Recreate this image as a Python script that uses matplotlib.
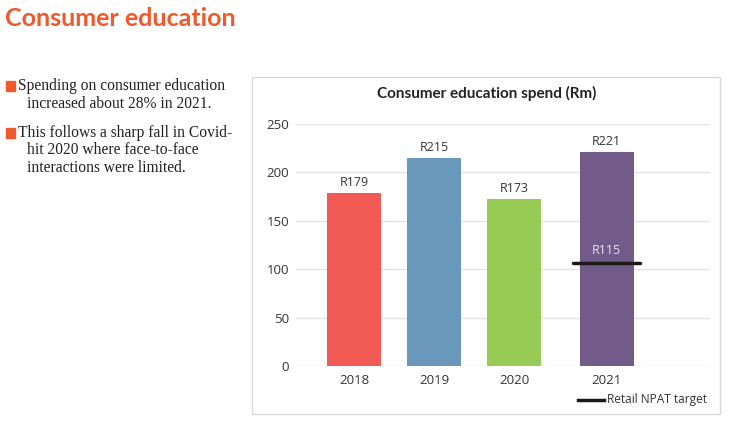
import matplotlib
matplotlib.use('Agg')
import numpy as np
from matplotlib import pyplot as plt
from matplotlib.patches import Rectangle

# data
years = ['2018', '2019', '2020', '2021']
spend = [179, 215, 173, 221]
spend_labels = ['R179', 'R215', 'R173', 'R221']
bar_colors = ['#F15A55', '#6A98BA', '#98CA56', '#725A89']
target_value = 106
target_label = 'R115'
yticks = [0, 50, 100, 150, 200, 250]

title = 'Consumer education'
bullets = [['Spending on consumer education', 'increased about 28% in 2021.'],
           ['This follows a sharp fall in Covid-', 'hit 2020 where face-to-face', 'interactions were limited.']]

W, H = 755, 428
fig = plt.figure(figsize=(W / 100, H / 100), dpi=100)

# page title
fig.text(5 / W, 1 - 19 / H, title, fontsize=18, fontweight='bold', color='#EE5A2B',
         family='Lato', va='center', ha='left')

# bullet text on the left
y = 86
for para in bullets:
    fig.patches.append(Rectangle((6 / W, 1 - (y + 5) / H), 9 / W, 10 / H,
                                 transform=fig.transFigure, color='#EE5A2B'))
    for i, line in enumerate(para):
        x = 18 if i == 0 else 27
        fig.text(x / W, 1 - y / H, line, fontsize=11.2, family='Liberation Serif',
                 color='#231F20', va='center', ha='left')
        y += 17.5
    y += 12

# chart frame
fig.patches.append(Rectangle((252 / W, 1 - 414 / H), (720 - 252) / W, (414 - 77) / H,
                             transform=fig.transFigure, fill=False, edgecolor='#D9D9D9', lw=1))
fig.text(487 / W, 1 - 93 / H, 'Consumer education spend (Rm)', fontsize=11, fontweight='bold',
         family='Lato', color='#222222', ha='center', va='center')

ax = fig.add_axes([296 / W, 1 - 366 / H, (710 - 296) / W, (366 - 124) / H])
x = np.array([0, 1, 2, 3.16])
ax.bar(x, spend, width=0.68, color=bar_colors, zorder=2)
for xi, v, lab in zip(x, spend, spend_labels):
    ax.text(xi, v + 4, lab, ha='center', va='bottom', fontsize=9, family='Open Sans', color='#333333')

# retail NPAT target marker on 2021
ax.plot([x[3] - 0.42, x[3] + 0.42], [target_value, target_value], color='#1a1a1a', lw=2.5,
        solid_capstyle='round', zorder=3)
ax.text(x[3], target_value + 7, target_label, ha='center', va='bottom', fontsize=9,
        family='Open Sans', color='#E8E0F0', zorder=3)

ax.set_xlim(-0.725, 4.45)
ax.set_ylim(0, 250)
ax.set_yticks(yticks)
ax.set_xticks(x)
ax.set_xticklabels(years)
ax.grid(axis='y', color='#E3E3E3', lw=1, zorder=0)
for s in ax.spines.values():
    s.set_visible(False)
ax.tick_params(length=0, labelsize=9.5, colors='#333333', pad=6)
ax.tick_params(axis='y', pad=5)
for lab in ax.get_xticklabels() + ax.get_yticklabels():
    lab.set_family('Open Sans')

# legend
fig.lines.append(plt.Line2D([578 / W, 604 / W], [1 - 400 / H, 1 - 400 / H], transform=fig.transFigure,
                            color='#1a1a1a', lw=2.5))
fig.text(607 / W, 1 - 400 / H, 'Retail NPAT target', fontsize=8.6, family='Open Sans',
         color='#333333', va='center', ha='left')

fig.savefig('out.png', dpi=100)
